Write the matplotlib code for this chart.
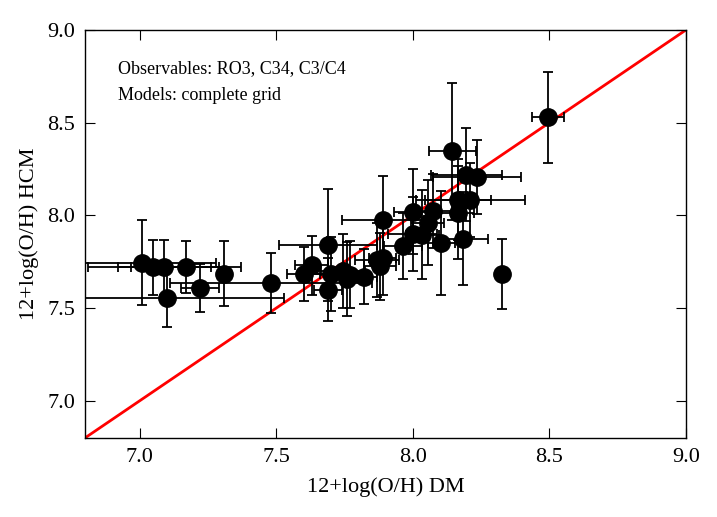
import matplotlib
matplotlib.use("Agg")
import matplotlib.pyplot as plt
import numpy as np

# Data: 12+log(O/H) from DM (x) and HCM (y) with errors
x_dm = [7.01, 7.05, 7.09, 7.10, 7.17, 7.22, 7.31, 7.48, 7.60, 7.63,
        7.69, 7.69, 7.70, 7.745, 7.76, 7.77, 7.82, 7.87, 7.88, 7.89,
        7.89, 7.965, 8.00, 8.00, 8.035, 8.055, 8.075, 8.105, 8.145, 8.165,
        8.165, 8.185, 8.195, 8.21, 8.235, 8.325, 8.495]
y_hcm = [7.745, 7.72, 7.72, 7.555, 7.72, 7.61, 7.685, 7.635, 7.685, 7.73,
         7.84, 7.60, 7.685, 7.70, 7.655, 7.68, 7.67, 7.76, 7.725, 7.77,
         7.975, 7.835, 8.02, 7.90, 7.895, 7.96, 8.025, 7.85, 8.345, 8.085,
         8.015, 7.875, 8.22, 8.085, 8.205, 7.685, 8.53]
x_err = [0.27, 0.24, 0.17, 0.43, 0.20, 0.07, 0.01, 0.37, 0.06, 0.06,
         0.18, 0.05, 0.08, 0.08, 0.06, 0.06, 0.05, 0.08, 0.06, 0.05,
         0.15, 0.07, 0.07, 0.09, 0.06, 0.06, 0.09, 0.05, 0.085, 0.12,
         0.06, 0.09, 0.13, 0.20, 0.16, 0.0, 0.06]
y_err = [0.23, 0.15, 0.15, 0.155, 0.14, 0.13, 0.175, 0.16, 0.145, 0.16,
         0.30, 0.17, 0.20, 0.20, 0.20, 0.18, 0.15, 0.20, 0.18, 0.20,
         0.24, 0.18, 0.23, 0.20, 0.24, 0.23, 0.20, 0.28, 0.37, 0.22,
         0.25, 0.25, 0.25, 0.20, 0.20, 0.19, 0.245]

x_ticks = [7.0, 7.5, 8.0, 8.5, 9.0]
y_ticks = [7.0, 7.5, 8.0, 8.5, 9.0]

plt.rcParams['font.family'] = ['Liberation Serif', 'DejaVu Serif']
plt.rcParams['mathtext.fontset'] = 'stix'

fig = plt.figure(figsize=(7.17, 5.17), dpi=100)
ax = fig.add_axes([0.1186, 0.153, 0.838, 0.789])

ax.plot([6.8, 9.0], [6.8, 9.0], color='red', lw=2, zorder=1)
ax.errorbar(x_dm, y_hcm, xerr=x_err, yerr=y_err, fmt='o', color='black',
            ms=12.5, ecolor='black', elinewidth=1.3, capsize=3.5, capthick=1.3,
            zorder=3)

ax.set_xlim(6.8, 9.0)
ax.set_ylim(6.8, 9.0)
ax.set_xticks(x_ticks)
ax.set_yticks(y_ticks)
ax.set_xticklabels([f"{v:.1f}" for v in x_ticks])
ax.set_yticklabels([f"{v:.1f}" for v in y_ticks])
ax.tick_params(direction='in', length=7, width=0.8, labelsize=16,
               top=True, right=True, pad=7)
for s in ax.spines.values():
    s.set_linewidth(1.0)

ax.set_xlabel('12+log(O/H) DM', fontsize=16, labelpad=8)
ax.set_ylabel('12+log(O/H) HCM', fontsize=16, labelpad=6)

ax.text(0.055, 0.905, 'Observables: RO3, C34, C3/C4', transform=ax.transAxes,
        fontsize=13, va='center', ha='left')
ax.text(0.055, 0.84, 'Models: complete grid', transform=ax.transAxes,
        fontsize=13, va='center', ha='left')

fig.savefig('out.png', dpi=100)
